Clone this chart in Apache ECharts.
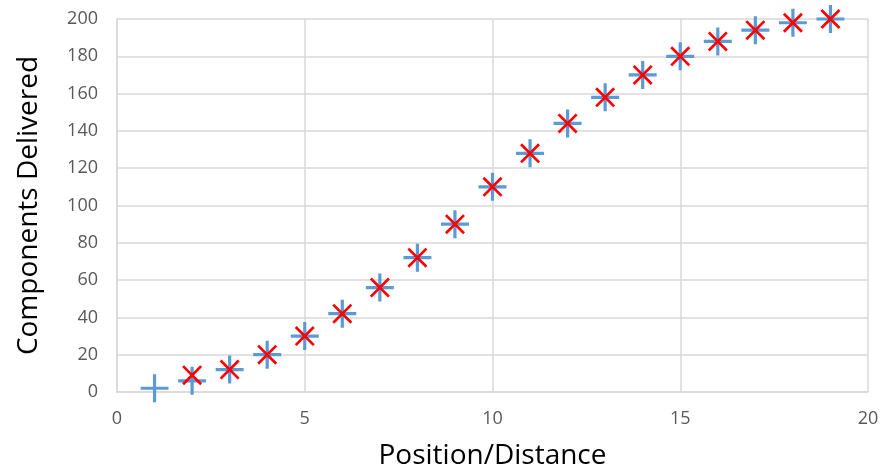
<!DOCTYPE html>
<html>
<head>
<meta charset="utf-8">
<script src="https://cdn.jsdelivr.net/npm/echarts@6/dist/echarts.min.js"></script>
<style>
  html, body { margin: 0; padding: 0; background: #fff; }
  #chart { width: 883px; height: 470px; }
</style>
</head>
<body>
<div id="chart"></div>
<script>
// Measured positions along the line
const positionsMeasured = [1, 2, 3, 4, 5, 6, 7, 8, 9, 10, 11, 12, 13, 14, 15, 16, 17, 18, 19];
const deliveredMeasured = [2, 6, 12, 20, 30, 42, 56, 72, 90, 110, 128, 144, 158, 170, 180, 188, 194, 198, 200];

// Model curve, evaluated from position 2 onward
const positionsModel = [2, 3, 4, 5, 6, 7, 8, 9, 10, 11, 12, 13, 14, 15, 16, 17, 18, 19];
const deliveredModel = [9, 12, 20, 30, 42, 56, 72, 90, 110, 128, 144, 158, 170, 180, 188, 194, 198, 200];

const xTicks = [0, 5, 10, 15, 20];
const yTicks = [0, 20, 40, 60, 80, 100, 120, 140, 160, 180, 200];

const pair = (xs, ys) => xs.map((x, i) => [x, ys[i]]);

// Filled "+" and "x" glyphs, both sub-paths wound the same way
const plusGlyph = 'path://M12.4,0h3.2v28h-3.2z M0,12.4h28v3.2h-28z';
const crossGlyph = 'path://M0,1.9L1.9,0L20,18.1L18.1,20Z M18.1,0L20,1.9L1.9,20L0,18.1Z';

const font = '"Open Sans", Lato, sans-serif';
const gridColor = '#d9d9d9';

const chart = echarts.init(document.getElementById('chart'), null, { renderer: 'canvas' });
chart.setOption({
  animation: false,
  backgroundColor: '#ffffff',
  grid: { left: 117, right: 15, top: 19, bottom: 78, containLabel: false, outerBoundsMode: 'none' },
  xAxis: {
    type: 'value',
    min: xTicks[0],
    max: xTicks[xTicks.length - 1],
    interval: 5,
    name: 'Position/Distance',
    nameLocation: 'middle',
    nameGap: 50,
    nameTextStyle: { fontFamily: font, fontSize: 28, color: '#000' },
    axisLine: { show: true, lineStyle: { color: gridColor, width: 1.5 } },
    axisTick: { show: false },
    axisLabel: { fontFamily: font, fontSize: 18, color: '#595959', margin: 18 },
    splitLine: { show: true, lineStyle: { color: gridColor, width: 1.5 } }
  },
  yAxis: {
    type: 'value',
    min: yTicks[0],
    max: yTicks[yTicks.length - 1],
    interval: 20,
    name: 'Components Delivered',
    nameLocation: 'middle',
    nameGap: 74,
    nameTextStyle: { fontFamily: font, fontSize: 28, color: '#000' },
    axisLine: { show: true, lineStyle: { color: gridColor, width: 1.5 } },
    axisTick: { show: false },
    axisLabel: { fontFamily: font, fontSize: 18, color: '#595959', margin: 19 },
    splitLine: { show: true, lineStyle: { color: gridColor, width: 1.5 } }
  },
  series: [
    {
      name: 'Measured',
      type: 'scatter',
      symbol: plusGlyph,
      symbolSize: 28,
      itemStyle: { color: '#5b9bd5', opacity: 1 },
      data: pair(positionsMeasured, deliveredMeasured),
      z: 2
    },
    {
      name: 'Model',
      type: 'scatter',
      symbol: crossGlyph,
      symbolSize: 20,
      itemStyle: { color: '#ff0000', opacity: 1 },
      data: pair(positionsModel, deliveredModel),
      z: 3
    }
  ]
});
</script>
</body>
</html>
